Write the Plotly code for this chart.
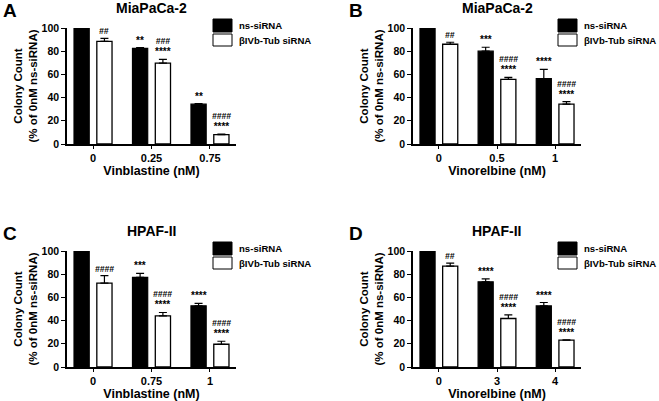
import plotly.graph_objects as go

W, H = 659, 401

# --- data ---
panels = ["A", "B", "C", "D"]
cell_lines = ["MiaPaCa-2", "MiaPaCa-2", "HPAF-II", "HPAF-II"]
drugs = ["Vinblastine (nM)", "Vinorelbine (nM)", "Vinblastine (nM)", "Vinorelbine (nM)"]
doses = [["0", "0.25", "0.75"], ["0", "0.5", "1"], ["0", "0.75", "1"], ["0", "3", "4"]]

ns_mean = [[100, 82.5, 34.3], [100, 80, 56.3], [100, 77.2, 52.7], [100, 73.5, 52.7]]
ns_err = [[0, 0.6, 0.5], [0, 3.4, 8.0], [0, 3.5, 2.1], [0, 2.5, 2.9]]
tub_mean = [[88.5, 69.7, 8.1], [86, 55.7, 34.3], [72.3, 44.1, 19.6], [87, 41.8, 23.2]]
tub_err = [[2.6, 3.3, 0.5], [1.7, 1.7, 2.3], [6.4, 2.9, 2.6], [2.6, 3.2, 0.3]]

ns_sig = [["", "**", "**"], ["", "***", "****"], ["", "***", "****"], ["", "****", "****"]]
tub_hash = [["##", "###", "####"], ["##", "####", "####"], ["####", "####", "####"], ["##", "####", "####"]]
tub_star = [["", "****", "****"], ["", "****", "****"], ["", "****", "****"], ["", "****", "****"]]
series_names = ["ns-siRNA", "βIVb-Tub siRNA"]

# plot areas in pixels: (left, right, top, bottom)
boxes = [(67, 236, 28, 144), (413, 581, 28, 144), (67, 236, 251, 367), (413, 581, 251, 367)]

BAR_W = 0.26
SHIFT = 0.195


def px(x):
    return x / W


def py(y):
    return 1 - y / H


def sig_text(hashes, stars):
    parts = []
    if hashes:
        parts.append("<i>" + hashes + "</i>")
    if stars:
        parts.append("<span style='font-size:10px'>" + stars + "</span>")
    return "<br>".join(parts)


fig = go.Figure()
annotations = []
shapes = []

for i in range(4):
    left, right, top, bottom = boxes[i]
    sfx = "" if i == 0 else str(i + 1)
    xa, ya = "x" + sfx, "y" + sfx

    fig.add_trace(
        go.Bar(
            x=doses[i], y=ns_mean[i], name=series_names[0], showlegend=False,
            xaxis=xa, yaxis=ya,
            offset=-SHIFT - BAR_W / 2, width=BAR_W,
            marker={"color": "black", "line": {"color": "black", "width": 1.2}},
            error_y={"type": "data", "array": ns_err[i], "arrayminus": [0, 0, 0],
                     "symmetric": False, "color": "black", "thickness": 1.2, "width": 4},
        )
    )
    fig.add_trace(
        go.Bar(
            x=doses[i], y=tub_mean[i], name=series_names[1], showlegend=False,
            xaxis=xa, yaxis=ya,
            offset=SHIFT - BAR_W / 2, width=BAR_W,
            marker={"color": "white", "line": {"color": "black", "width": 1.3}},
            error_y={"type": "data", "array": tub_err[i], "arrayminus": [0, 0, 0],
                     "symmetric": False, "color": "black", "thickness": 1.2, "width": 4},
        )
    )

    unit = (right - left) / 2.89
    for j in range(len(doses[i])):
        for txt, top_val, sh in (
            (sig_text("", ns_sig[i][j]), ns_mean[i][j] + ns_err[i][j], -SHIFT),
            (sig_text(tub_hash[i][j], tub_star[i][j]), tub_mean[i][j] + tub_err[i][j], SHIFT),
        ):
            if txt:
                annotations.append(dict(
                    x=j, y=top_val, xref=xa, yref=ya, text=txt, showarrow=False,
                    xshift=sh * unit, yanchor="bottom", yshift=0,
                    font={"size": 8.5},
                ))

    annotations.append(dict(
        x=px((left + right) / 2), y=py(top - 20), xref="paper", yref="paper",
        xanchor="center", yanchor="middle",
        text=cell_lines[i], showarrow=False, font={"size": 14},
    ))
    annotations.append(dict(
        x=px(left - 66), y=py(top - 18), xref="paper", yref="paper",
        xanchor="left", yanchor="middle",
        text=panels[i], showarrow=False, font={"size": 19},
    ))

    # legend boxes + labels
    for k, (fill, y0, y1, ty) in enumerate(
        (("black", top - 9, top + 4, top - 2.5), ("white", top + 6, top + 18, top + 12))
    ):
        shapes.append(dict(
            type="rect", xref="paper", yref="paper",
            x0=px(right - 23), x1=px(right - 4), y0=py(y1), y1=py(y0),
            fillcolor=fill, line={"color": "black", "width": 1},
        ))
        annotations.append(dict(
            x=px(right + 1), y=py(ty), xref="paper", yref="paper",
            xanchor="left", yanchor="middle",
            text=series_names[k], showarrow=False, font={"size": 9.6},
        ))

    fig.update_layout({
        "xaxis" + sfx: dict(
            domain=[px(left), px(right)], anchor=ya, type="category",
            range=[-0.445, 2.445], showline=True, linecolor="black", linewidth=1.5,
            ticks="outside", ticklen=3, tickwidth=1.2, tickcolor="black",
            showgrid=False, zeroline=False, tickfont={"size": 11}, automargin=False,
            title={"text": drugs[i], "font": {"size": 12.5}, "standoff": 2},
        ),
        "yaxis" + sfx: dict(
            domain=[py(bottom), py(top)], anchor=xa, range=[0, 100],
            tickvals=[0, 20, 40, 60, 80, 100], showline=True, linecolor="black",
            linewidth=1.5, ticks="outside", ticklen=4, tickwidth=1.2, tickcolor="black",
            showgrid=False, zeroline=False, tickfont={"size": 10.5}, automargin=False,
            title={"text": "Colony Count<br>(% of 0nM ns-siRNA)", "font": {"size": 11.5},
                   "standoff": 2},
        ),
    })

fig.update_layout(
    width=W, height=H,
    margin={"l": 0, "r": 0, "t": 0, "b": 0},
    paper_bgcolor="white", plot_bgcolor="white",
    font={"family": "Liberation Sans, Arial", "color": "black", "weight": "bold"},
    barmode="overlay",
    showlegend=False,
    annotations=annotations,
    shapes=shapes,
)

fig.write_html(
    "out.html",
    config={"displayModeBar": False},
    post_script="document.body.style.margin='0';document.body.style.overflow='hidden';",
)
